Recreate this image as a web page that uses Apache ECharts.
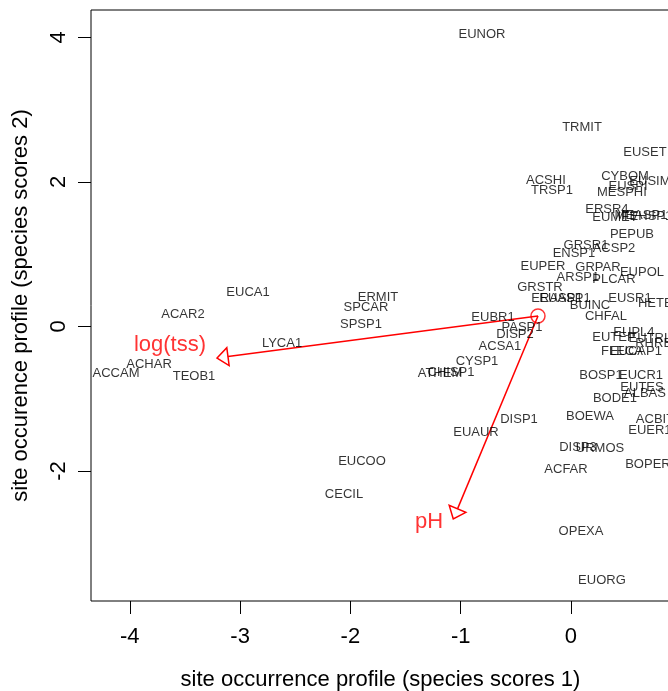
<!DOCTYPE html>
<html>
<head>
<meta charset="utf-8">
<script src="https://cdn.jsdelivr.net/npm/echarts@6/dist/echarts.min.js"></script>
<style>
html,body{margin:0;padding:0;background:#fff;}
#chart{width:668px;height:691px;}
</style>
</head>
<body>
<div id="chart"></div>
<script>
// Species scores
const speciesNames = ["EUNOR","TRMIT","EUSET","ACSHI","TRSP1","CYBOM","EUSIM","EUSPI","MESPHI","ERSR4","EUMET","MEASP1","TEHSP1","PEPUB","GRSR1","ACSP2","ENSP1","EUPER","GRPAR","EUPOL","ARSP1","PLCAR","GRSTR","ERASP1","EUASP1","BUINC","EUSR1","HETER","CHFAL","EUBR1","PASP1","DISP2","ACSA1","CYSP1","ATHEM","CHISP1","SPSP1","SPCAR","ERMIT","EUCA1","ACAR2","LYCA1","ACHAR","ACCAM","TEOB1","EUTEP","EUPL4","EUTRL","RHREP","FLECA","EUCAP1","BOSP1","EUCR1","EUTES","ALBAS","BODE1","BOEWA","DISP1","EUAUR","ACBIT","EUER1","DISP3","URMOS","ACFAR","BOPER","EUCOO","CECIL","OPEXA","EUORG"];
const speciesX = [-0.807,0.100,0.671,-0.227,-0.172,0.490,0.716,0.517,0.462,0.326,0.399,0.635,0.689,0.553,0.136,0.390,0.027,-0.254,0.245,0.644,0.063,0.390,-0.281,-0.127,-0.054,0.172,0.535,0.807,0.317,-0.707,-0.444,-0.508,-0.644,-0.852,-1.188,-1.088,-1.904,-1.859,-1.750,-2.928,-3.518,-2.620,-3.826,-4.125,-3.418,0.390,0.571,0.716,0.789,0.462,0.589,0.272,0.635,0.644,0.671,0.399,0.172,-0.471,-0.861,0.762,0.716,0.063,0.263,-0.045,0.698,-1.895,-2.058,0.091,0.281];
const speciesY = [4.046,2.759,2.414,2.026,1.888,2.082,2.012,1.943,1.860,1.625,1.515,1.542,1.528,1.279,1.127,1.086,1.017,0.837,0.823,0.754,0.685,0.657,0.546,0.394,0.394,0.297,0.394,0.325,0.145,0.131,-0.007,-0.104,-0.270,-0.477,-0.643,-0.629,0.035,0.270,0.408,0.477,0.173,-0.228,-0.519,-0.643,-0.685,-0.145,-0.076,-0.159,-0.228,-0.339,-0.339,-0.671,-0.671,-0.837,-0.920,-0.989,-1.238,-1.279,-1.459,-1.279,-1.432,-1.667,-1.680,-1.971,-1.902,-1.860,-2.317,-2.829,-3.506];

// Environmental vectors
const envNames = ["log(tss)","pH"];
const envOrigin = [-0.299, 0.145];
const envTipX = [-3.209, -1.067];
const envTipY = [-0.436, -2.663];
const envLabelX = [-3.636, -1.287];
const envLabelY = [-0.256, -2.700];

// Axes
const xTicks = [-4,-3,-2,-1,0,1];
const yTicks = [-4,-2,0,2,4];
const xRange = [-4.352, 0.898];
const yRange = [-3.797, 4.378];

const FONT = "'Liberation Sans', Arial, Helvetica, sans-serif";
const chart = echarts.init(document.getElementById('chart'), null, {renderer:'canvas'});

const option = {
  animation: false,
  backgroundColor: '#fff',
  grid: {left: 91, top: 10, right: -2, bottom: 90, outerBoundsMode: 'none', containLabel: false,
         show: true, borderColor: '#000', borderWidth: 1, backgroundColor: 'transparent'},
  xAxis: {
    type: 'value', min: xRange[0], max: xRange[1],
    name: 'site occurrence profile (species scores 1)', nameLocation: 'middle', nameGap: 68,
    nameTextStyle: {fontFamily: FONT, fontSize: 22, color: '#000'},
    axisLine: {show: false, onZero: false},
    axisTick: {show: true, length: 13, customValues: xTicks, lineStyle: {color: '#000', width: 1}},
    axisLabel: {show: true, customValues: xTicks, margin: 25, fontFamily: FONT, fontSize: 22, color: '#000'},
    splitLine: {show: false}
  },
  yAxis: {
    type: 'value', min: yRange[0], max: yRange[1],
    name: 'site occurence profile (species scores 2)', nameLocation: 'middle', nameGap: 59,
    nameTextStyle: {fontFamily: FONT, fontSize: 22, color: '#000'},
    axisLine: {show: false, onZero: false},
    axisTick: {show: true, length: 13, customValues: yTicks, lineStyle: {color: '#000', width: 1}},
    axisLabel: {show: true, customValues: yTicks, rotate: 90, margin: 21, fontFamily: FONT, fontSize: 22, color: '#000'},
    splitLine: {show: false}
  },
  series: [
    {
      type: 'scatter', symbol: 'circle', symbolSize: 1, silent: true,
      itemStyle: {color: 'rgba(0,0,0,0)'},
      data: speciesNames.map((n, i) => ({name: n, value: [speciesX[i], speciesY[i]]})),
      label: {show: true, position: 'inside', formatter: p => p.name, fontFamily: FONT, fontSize: 13, color: '#000'}
    },
    {
      type: 'custom', coordinateSystem: 'cartesian2d', silent: true, clip: false,
      data: envTipX.map((x, i) => [envOrigin[0], envOrigin[1], x, envTipY[i]]),
      renderItem: function (params, api) {
        const p0 = api.coord([api.value(0), api.value(1)]);
        const p1 = api.coord([api.value(2), api.value(3)]);
        const dx = p1[0] - p0[0], dy = p1[1] - p0[1];
        const L = Math.hypot(dx, dy), ux = dx / L, uy = dy / L;
        const hl = 11, hw = 9;
        const base = [p1[0] - ux * hl, p1[1] - uy * hl];
        const a = [base[0] - uy * hw, base[1] + ux * hw];
        const b = [base[0] + uy * hw, base[1] - ux * hw];
        return {type: 'group', children: [
          {type: 'line', shape: {x1: p0[0], y1: p0[1], x2: base[0], y2: base[1]}, style: {stroke: '#ff0000', lineWidth: 1.5}},
          {type: 'polygon', shape: {points: [p1, a, b]}, style: {fill: 'none', stroke: '#ff0000', lineWidth: 1.5}}
        ]};
      }
    },
    {
      type: 'scatter', symbol: 'circle', symbolSize: 14, silent: true,
      itemStyle: {color: 'rgba(0,0,0,0)', borderColor: '#ff0000', borderWidth: 1.5},
      data: [envOrigin]
    },
    {
      type: 'scatter', symbol: 'circle', symbolSize: 1, silent: true,
      itemStyle: {color: 'rgba(0,0,0,0)'},
      data: envNames.map((n, i) => ({name: n, value: [envLabelX[i], envLabelY[i]]})),
      label: {show: true, position: 'inside', formatter: p => p.name, fontFamily: FONT, fontSize: 22, color: '#ff0000'}
    }
  ]
};
chart.setOption(option);
</script>
</body>
</html>
